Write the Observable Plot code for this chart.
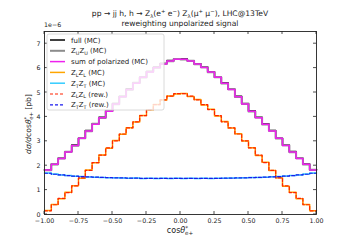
<!DOCTYPE html>
<html><head><meta charset="utf-8">
<script src="https://cdn.jsdelivr.net/npm/d3@7"></script>
<script src="https://cdn.jsdelivr.net/npm/@observablehq/plot@0.6"></script>
<style>body{margin:0;background:#fff;} svg{font-family:"DejaVu Sans";}</style>
</head><body><div id="chart"></div>
<script>
// bin left edges of cos(theta*_e+) histogram, 40 bins of 0.05
const binEdges = [-1.00,-0.95,-0.90,-0.85,-0.80,-0.75,-0.70,-0.65,-0.60,-0.55,-0.50,-0.45,-0.40,-0.35,-0.30,-0.25,-0.20,-0.15,-0.10,-0.05,
                  0.00,0.05,0.10,0.15,0.20,0.25,0.30,0.35,0.40,0.45,0.50,0.55,0.60,0.65,0.70,0.75,0.80,0.85,0.90,0.95];
const xTicks = [-1.00,-0.75,-0.50,-0.25,0.00,0.25,0.50,0.75,1.00];
const yTicks = [0,1,2,3,4,5,6,7];

// values in units of 1e-6 pb
const fullMC = [1.83,2.05,2.31,2.57,2.85,3.12,3.44,3.71,3.99,4.24,4.55,4.84,5.14,5.39,5.63,5.86,6.03,6.19,6.31,6.37,
                6.38,6.30,6.18,6.05,5.85,5.63,5.40,5.13,4.85,4.54,4.25,3.99,3.72,3.44,3.13,2.85,2.58,2.31,2.07,1.83];
const zuzuMC = [1.81,2.07,2.29,2.57,2.82,3.13,3.41,3.72,3.96,4.25,4.52,4.84,5.11,5.40,5.61,5.85,6.01,6.18,6.28,6.37,
                6.35,6.30,6.16,6.03,5.83,5.63,5.37,5.13,4.82,4.55,4.22,3.98,3.69,3.43,3.11,2.84,2.55,2.31,2.05,1.83];
const sumPol = [1.82,2.06,2.30,2.56,2.83,3.12,3.42,3.70,3.97,4.23,4.53,4.83,5.12,5.38,5.62,5.84,6.02,6.17,6.29,6.36,
                6.36,6.29,6.17,6.02,5.84,5.62,5.38,5.12,4.83,4.53,4.23,3.97,3.70,3.42,3.12,2.83,2.56,2.30,2.06,1.82];
const zlzlMC = [0.16,0.41,0.65,0.91,1.18,1.49,1.82,2.12,2.44,2.72,3.03,3.29,3.56,3.79,4.06,4.29,4.51,4.69,4.86,4.94,
                4.96,4.84,4.71,4.49,4.31,4.04,3.81,3.54,3.31,3.01,2.74,2.42,2.14,1.80,1.51,1.16,0.91,0.65,0.41,0.15];
const ztztMC = [1.70,1.66,1.62,1.60,1.57,1.56,1.54,1.53,1.52,1.51,1.51,1.50,1.49,1.50,1.48,1.49,1.48,1.49,1.48,1.49,
                1.48,1.49,1.48,1.49,1.48,1.49,1.49,1.50,1.50,1.51,1.52,1.52,1.53,1.55,1.56,1.58,1.60,1.62,1.66,1.70];
const zlzlRew = [0.15,0.40,0.66,0.90,1.17,1.50,1.81,2.13,2.43,2.73,3.02,3.30,3.55,3.80,4.05,4.30,4.50,4.70,4.85,4.95,
                 4.95,4.85,4.70,4.50,4.30,4.05,3.80,3.55,3.30,3.02,2.73,2.43,2.13,1.81,1.50,1.17,0.90,0.66,0.40,0.15];
const ztztRew = [1.69,1.65,1.62,1.59,1.57,1.55,1.54,1.53,1.52,1.51,1.50,1.50,1.49,1.49,1.48,1.48,1.48,1.48,1.48,1.48,
                 1.48,1.48,1.48,1.48,1.48,1.48,1.49,1.49,1.50,1.50,1.51,1.52,1.53,1.54,1.55,1.57,1.59,1.62,1.65,1.69];

function steps(vals){
  const pts = vals.map((v,i)=>({x: binEdges[i], v}));
  pts.push({x: 1, v: vals[vals.length-1]});
  return pts;
}

const seriesDefs = [
  {key:"full", vals: fullMC, stroke:"#000000", w:1.5, dash:null, label:[["full (MC)"]]},
  {key:"zuzu", vals: zuzuMC, stroke:"#8c8c8c", w:2.0, dash:null, label:[["Z"],["U","sub"],["Z"],["U","sub"],[" (MC)"]]},
  {key:"sum", vals: sumPol, stroke:"#ee22ee", w:1.5, dash:null, label:[["sum of polarized (MC)"]]},
  {key:"zlzlmc", vals: zlzlMC, stroke:"#ffa500", w:1.5, dash:null, label:[["Z"],["L","sub"],["Z"],["L","sub"],[" (MC)"]]},
  {key:"ztztmc", vals: ztztMC, stroke:"#33ccff", w:1.5, dash:null, label:[["Z"],["T","sub"],["Z"],["T","sub"],[" (MC)"]]},
  {key:"zlzlrew", vals: zlzlRew, stroke:"#ff2200", w:1.2, dash:"3,2", label:[["Z"],["L","sub"],["Z"],["L","sub"],[" (rew.)"]]},
  {key:"ztztrew", vals: ztztRew, stroke:"#1a1aee", w:1.2, dash:"3,2", label:[["Z"],["T","sub"],["Z"],["T","sub"],[" (rew.)"]]}
];

const L = 44, R = 36, T = 31, B = 28, W = 352, H = 242;
const fmtX = d3.format(".2f"), fmtY = d3.format("d");

const chart = Plot.plot({
  width: W, height: H,
  marginLeft: L, marginRight: R, marginTop: T, marginBottom: B,
  x: {domain: [-1, 1]},
  y: {domain: [0, 7.5]},
  style: {fontFamily: "DejaVu Sans", fontSize: "6.3px", background: "white", color: "#222"},
  marks: [
    Plot.axisX({ticks: xTicks, tickFormat: fmtX, tickSize: 0, tickPadding: 4, label: null, fill: "#222"}),
    Plot.axisY({ticks: yTicks, tickFormat: fmtY, tickSize: 0, tickPadding: 4, label: null, fill: "#222"}),
    ...seriesDefs.map(s => Plot.line(steps(s.vals), {x:"x", y:"v", curve:"step-after", stroke: s.stroke, strokeWidth: s.w, strokeDasharray: s.dash || undefined})),
    Plot.frame({stroke: "#222", strokeWidth: 0.9})
  ]
});
document.getElementById("chart").appendChild(chart);

const svg = d3.select(chart);
const xs = chart.scale("x"), ys = chart.scale("y");
const x0 = L, x1 = W - R, y0 = T, y1 = H - B;
const tg = svg.append("g").attr("stroke", "#222").attr("stroke-width", 0.8);
xTicks.forEach(t => {
  const px = xs.apply(t);
  tg.append("line").attr("x1", px).attr("x2", px).attr("y1", y1).attr("y2", y1 - 3);
  tg.append("line").attr("x1", px).attr("x2", px).attr("y1", y0).attr("y2", y0 + 3);
});
yTicks.forEach(t => {
  const py = ys.apply(t);
  tg.append("line").attr("y1", py).attr("y2", py).attr("x1", x0).attr("x2", x0 + 3);
  tg.append("line").attr("y1", py).attr("y2", py).attr("x1", x1).attr("x2", x1 - 3);
});

function rich(sel, parts, fs){
  let shift = 0;
  parts.forEach(p => {
    const [t, kind, extra] = p;
    const ts = sel.append("tspan").text(t);
    let target = 0, size = fs;
    if (kind === "sub") { target = fs*0.28; size = fs*0.7; }
    if (kind === "sup") { target = -fs*0.38; size = fs*0.7; }
    ts.attr("dy", target - shift).attr("font-size", size);
    if (extra && extra.dx) ts.attr("dx", extra.dx);
    if (extra && extra.italic) ts.attr("font-style", "italic");
    shift = target;
  });
}

// legend
const lg = svg.append("g").attr("text-anchor", "start");
lg.append("rect").attr("x", 47).attr("y", 34).attr("width", 117).attr("height", 76).attr("rx", 2)
  .attr("fill", "white").attr("fill-opacity", 0.8).attr("stroke", "#d0d0d0").attr("stroke-width", 0.8);
seriesDefs.forEach((s, i) => {
  const cy = 40 + 10.8 * i;
  lg.append("line").attr("x1", 50).attr("x2", 65).attr("y1", cy).attr("y2", cy)
    .attr("stroke", s.stroke).attr("stroke-width", s.w).attr("stroke-dasharray", s.dash);
  const t = lg.append("text").attr("x", 71).attr("y", cy + 2.5).attr("font-size", 7).attr("fill", "#222").attr("text-anchor", "start");
  rich(t, s.label, 7);
});

// title
const t1 = svg.append("text").attr("x", 180).attr("y", 16).attr("text-anchor", "middle").attr("font-size", 7.6).attr("fill", "#222");
rich(t1, [["pp → jj h, h → Z"],["λ","sub"],["(e"],["+","sup"],[" e"],["−","sup"],[") Z"],["λ","sub"],["(μ"],["+","sup"],[" μ"],["−","sup"],["), LHC@13TeV"]], 7.6);
svg.append("text").attr("x", 180).attr("y", 26).attr("text-anchor", "middle").attr("font-size", 7.6).attr("fill", "#222")
  .text("reweighting unpolarized signal");
svg.append("text").attr("x", 44).attr("y", 27).attr("font-size", 6.3).attr("fill", "#222").attr("text-anchor", "start").text("1e−6");

// x label
const xl = svg.append("text").attr("x", 180).attr("y", 233).attr("text-anchor", "middle").attr("font-size", 8).attr("fill", "#222");
rich(xl, [["cos"],["θ",null,{italic:true}],["*","sup"],["e+","sub",{dx:-3}]], 8);

// y label
const yl = svg.append("text").attr("transform", "translate(31,124) rotate(-90)").attr("text-anchor", "middle").attr("font-size", 7.6).attr("fill", "#222");
rich(yl, [["dσ/d",null,{italic:true}],["cos"],["θ",null,{italic:true}],["*","sup"],["e+","sub",{dx:-3}],[" [pb]"]], 7.6);
</script>
</body></html>
